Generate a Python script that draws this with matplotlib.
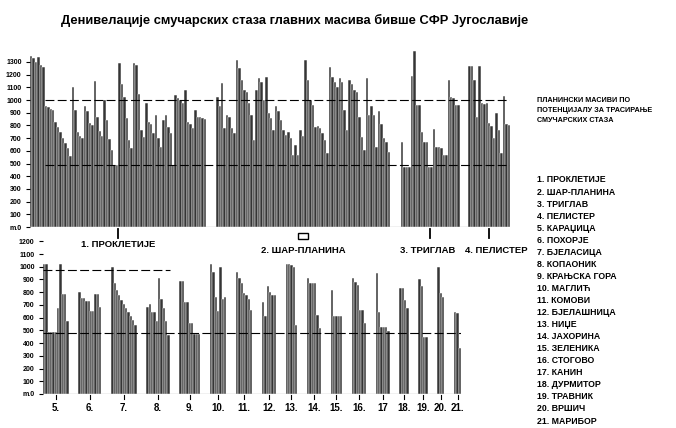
import numpy as np
import matplotlib
matplotlib.use("Agg")
import matplotlib.pyplot as plt
from matplotlib.patches import Rectangle
from matplotlib.transforms import blended_transform_factory

plt.rcParams['font.family'] = ['Liberation Sans', 'DejaVu Sans']

TITLE = "Денивелације смучарских стаза главних масива бивше СФР Југославије"

# top panel: height differences of ski runs (m), massifs 1-4
proklet = [1350, 1330, 1300, 1340, 1280, 1260, 955, 945, 930, 920, 830, 790,
           750, 700, 660, 620, 560, 1100, 920, 750, 720, 700, 950, 910, 820,
           800, 1150, 870, 760, 720, 1000, 840, 690, 610, 490, 490, 1290, 1130,
           1025, 855, 685, 620, 1290, 1275, 1050, 765, 710, 975, 830, 815, 740,
           880, 700, 630, 845, 880, 790, 740, 490, 1040, 1015, 1000, 975, 1080,
           830, 815, 780, 920, 870, 870, 860, 850]
sar = [1025, 950, 1135, 780, 880, 870, 780, 740, 1315, 1250, 1160, 1080, 1065,
       975, 880, 685, 1080, 1170, 1145, 1000, 1185, 895, 855, 765, 950, 910,
       845, 765, 725, 750, 700, 565, 645, 565, 765, 715, 1315, 1160, 1000, 960,
       790, 795, 780, 740, 685, 580, 1260, 1185, 1145, 1105, 1170, 1145, 920,
       765, 1160, 1130, 1080, 1065, 870, 710, 605, 1170, 880, 950, 880, 630,
       915, 815, 705, 670, 590]
triglav = [670, 475, 475, 475, 1190, 1390, 960, 960, 750, 670, 670, 475, 475,
           770, 630, 630, 620, 565, 565, 1155, 1025, 1015, 965, 965]
pelister = [1270, 1270, 1160, 870, 1265, 975, 970, 975, 820, 795, 700, 900,
            765, 580, 1030, 810, 800]

top_groups = [proklet, sar, triglav, pelister]
top_names = ["1. ПРОКЛЕТИЈЕ", "2. ШАР-ПЛАНИНА", "3. ТРИГЛАВ", "4. ПЕЛИСТЕР"]

# bottom panel: massifs 5-21
bottom_groups = [
    [1020, 1020, 490, 490, 490, 490, 675, 1020, 785, 785, 570],
    [800, 755, 755, 730, 730, 650, 650, 785, 785, 685],
    [1000, 870, 815, 780, 740, 710, 675, 645, 610, 580, 540],
    [685, 710, 645, 645, 570, 915, 750, 675, 570, 465],
    [890, 890, 725, 725, 555, 555, 475, 475, 475],
    [1020, 960, 760, 650, 1000, 750, 760],
    [955, 910, 870, 790, 780, 750, 660],
    [725, 610, 845, 805, 780, 780],
    [1025, 1025, 1015, 1000, 540],
    [910, 870, 870, 870, 620, 515],
    [815, 610, 610, 610, 610],
    [910, 880, 855, 660, 660, 555],
    [950, 645, 530, 530, 530, 495],
    [830, 830, 740, 675],
    [905, 845, 450, 450],
    [995, 790, 765],
    [645, 635, 360],
]
bottom_names = ["5.", "6.", "7.", "8.", "9.", "10.", "11.", "12.", "13.", "14.",
                "15.", "16.", "17", "18.", "19.", "20.", "21."]

legend_head = ["ПЛАНИНСКИ МАСИВИ ПО", "ПОТЕНЦИЈАЛУ ЗА ТРАСИРАЊЕ", "СМУЧАРСКИХ СТАЗА"]
legend_items = ["1. ПРОКЛЕТИЈЕ", "2. ШАР-ПЛАНИНА", "3. ТРИГЛАВ", "4. ПЕЛИСТЕР",
                "5. КАРАЏИЦА", "6. ПОХОРЈЕ", "7. БЈЕЛАСИЦА", "8. КОПАОНИК",
                "9. КРАЊСКА ГОРА", "10. МАГЛИЋ", "11. КОМОВИ", "12. БЈЕЛАШНИЦА",
                "13. НИЏЕ", "14. ЈАХОРИНА", "15. ЗЕЛЕНИКА", "16. СТОГОВО",
                "17. КАНИН", "18. ДУРМИТОР", "19. ТРАВНИК", "20. ВРШИЧ",
                "21. МАРИБОР"]

W, H = 676, 428
BAR = '#353535'


def layout(groups, gaps):
    """left edges of every bar and the centre of each group"""
    xs, centers = [], []
    x = 0.0
    for i, g in enumerate(groups):
        if i > 0:
            x += gaps[i - 1]
        pos = x + np.arange(len(g))
        xs.append(pos)
        centers.append(x + len(g) / 2)
        x += len(g)
    return xs, centers, x


def px_axes(fig, left, top, right, bottom):
    ax = fig.add_axes([left / W, 1 - bottom / H, (right - left) / W, (bottom - top) / H])
    ax.patch.set_visible(False)
    return ax


def style_y(ax, top):
    ticks = np.arange(0, top + 1, 100)
    labels = ["m.0"] + [str(t) for t in ticks[1:]]
    ax.set_yticks(ticks)
    ax.set_yticklabels(labels, fontsize=5, fontweight='bold')
    ax.tick_params(axis='y', length=3, width=0.8, pad=3)
    ax.tick_params(axis='x', bottom=False, labelbottom=False)
    for s in ax.spines.values():
        s.set_visible(False)


def main():
    fig = plt.figure(figsize=(W / 100, H / 100), dpi=100)
    fig.text(295 / W, 1 - 20 / H, TITLE, ha='center', va='center',
             fontsize=9.3, fontweight='bold',
             family=['Liberation Sans Narrow', 'Liberation Sans', 'DejaVu Sans'])

    # ---- top panel
    ax = px_axes(fig, 30, 49.3, 510, 227)
    xs, centers, total = layout(top_groups, [4, 4.5, 3.5])
    for pos, g in zip(xs, top_groups):
        ax.bar(pos, g, width=1, align='edge', color=BAR, edgecolor='white', linewidth=0.35)
    ax.set_xlim(0, total)
    ax.set_ylim(0, 1400)
    ax.hlines([1000, 490], 6, total, colors='black', linestyles=(0, (8, 3)), linewidth=0.8)
    ax.axhline(0, color='black', lw=0.8)
    style_y(ax, 1300)
    tr = blended_transform_factory(ax.transData, ax.transAxes)
    label_y = [-0.096, -0.13, -0.13, -0.13]
    label_dx = [0, 0, -1, 3]
    for i, (c, name) in enumerate(zip(centers, top_names)):
        ax.text(c + label_dx[i], label_y[i], name, transform=tr, ha='center', va='center',
                fontsize=6.8, fontweight='bold')
        if i == 1:
            ax.add_patch(Rectangle((c - 2, -0.07), 4, 0.035, transform=tr, clip_on=False,
                                   facecolor='white', edgecolor='black', lw=1))
        else:
            ax.plot([c, c], [-0.01, -0.06], transform=tr, color='black', lw=1.3, clip_on=False)

    # ---- bottom panel
    bx = px_axes(fig, 43, 241.3, 461, 394)
    xs, centers, total = layout(bottom_groups, [4.2] * (len(bottom_groups) - 1))
    for pos, g in zip(xs, bottom_groups):
        bx.bar(pos, g, width=1, align='edge', color=BAR, edgecolor='white', linewidth=0.35)
    bx.set_xlim(0, total)
    bx.set_ylim(0, 1200)
    bx.hlines(975, 0, xs[3][-1] + 1, colors='black', linestyles=(0, (8, 3)), linewidth=0.8)
    bx.hlines(480, 0, total, colors='black', linestyles=(0, (8, 3)), linewidth=0.8)
    bx.axhline(0, color='black', lw=0.8)
    style_y(bx, 1200)
    tr = blended_transform_factory(bx.transData, bx.transAxes)
    for c, name in zip(centers, bottom_names):
        bx.plot([c, c], [-0.005, -0.03], transform=tr, color='black', lw=0.8, clip_on=False)
        bx.text(c, -0.092, name, transform=tr, ha='center', va='center',
                fontsize=7, fontweight='bold')

    # ---- legend text on the right
    for i, line in enumerate(legend_head):
        fig.text(537 / W, 1 - (100 + 10.5 * i) / H, line, ha='left', va='center',
                 fontsize=5.2, fontweight='bold')
    for i, item in enumerate(legend_items):
        fig.text(537 / W, 1 - (180 + 12.05 * i) / H, item, ha='left', va='center',
                 fontsize=6.3, fontweight='bold')

    fig.savefig("out.png", dpi=100)


if __name__ == "__main__":
    main()
